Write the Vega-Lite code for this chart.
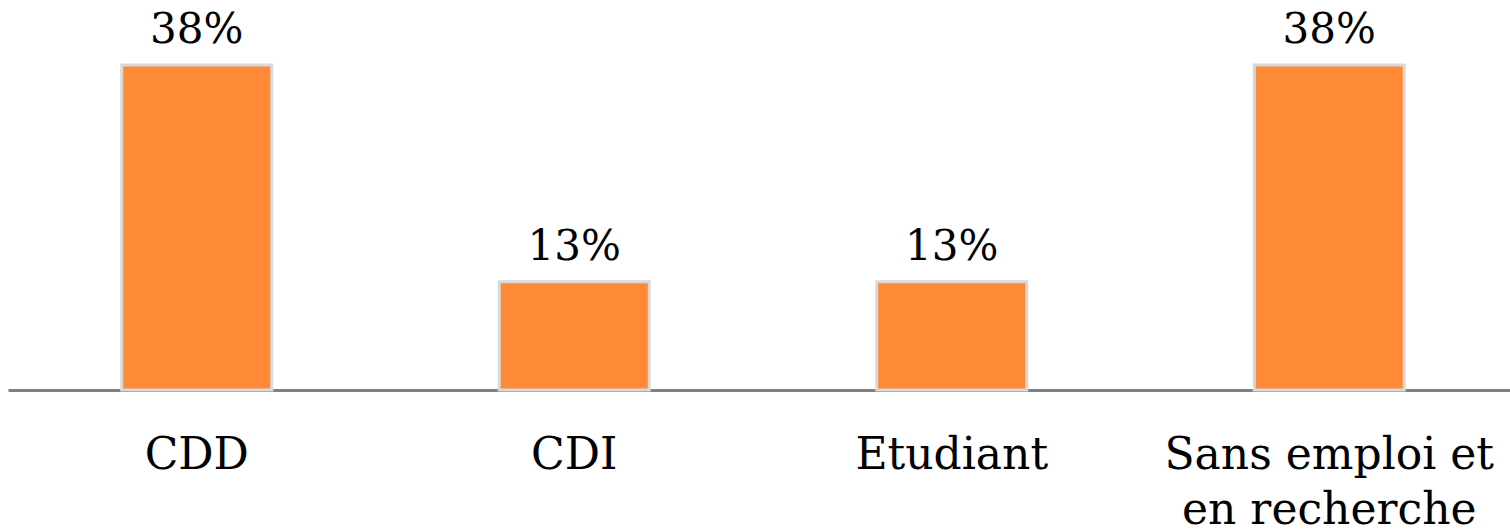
{
  "$schema": "https://vega.github.io/schema/vega-lite/v6.json",
  "width": 1510,
  "height": 390,
  "autosize": "none",
  "padding": {"left": 8, "top": 0, "right": 0, "bottom": 142},
  "background": "white",
  "config": {"view": {"stroke": null}},
  "data": {"values": [
    {"statut": "CDD", "pct": 37.5, "label": "38%"},
    {"statut": "CDI", "pct": 12.5, "label": "13%"},
    {"statut": "Etudiant", "pct": 12.5, "label": "13%"},
    {"statut": "Sans emploi et en recherche", "pct": 37.5, "label": "38%"}
  ]},
  "encoding": {
    "x": {
      "field": "statut", "type": "nominal", "sort": null,
      "scale": {"paddingInner": 0.6026, "paddingOuter": 0.3013},
      "axis": {
        "title": null, "labelAngle": 0, "ticks": false,
        "domainColor": "#808080", "domainWidth": 3,
        "labelFont": "DejaVu Serif", "labelFontSize": 44, "labelColor": "#000000",
        "labelPadding": 43, "labelLineHeight": 55, "labelBaseline": "top",
        "labelLimit": 0, "labelOverlap": false,
        "labelExpr": "datum.value == 'Sans emploi et en recherche' ? ['Sans emploi et', 'en recherche'] : datum.value"
      }
    },
    "y": {
      "field": "pct", "type": "quantitative",
      "scale": {"domain": [0, 45], "nice": false},
      "axis": null
    }
  },
  "layer": [
    {"mark": {"type": "bar", "color": "#FE8A38", "stroke": "#D9D9D9", "strokeWidth": 3}},
    {"mark": {"type": "text", "baseline": "alphabetic", "dy": -22, "font": "DejaVu Serif", "fontSize": 42, "color": "#000000"},
     "encoding": {"text": {"field": "label"}}}
  ]
}
